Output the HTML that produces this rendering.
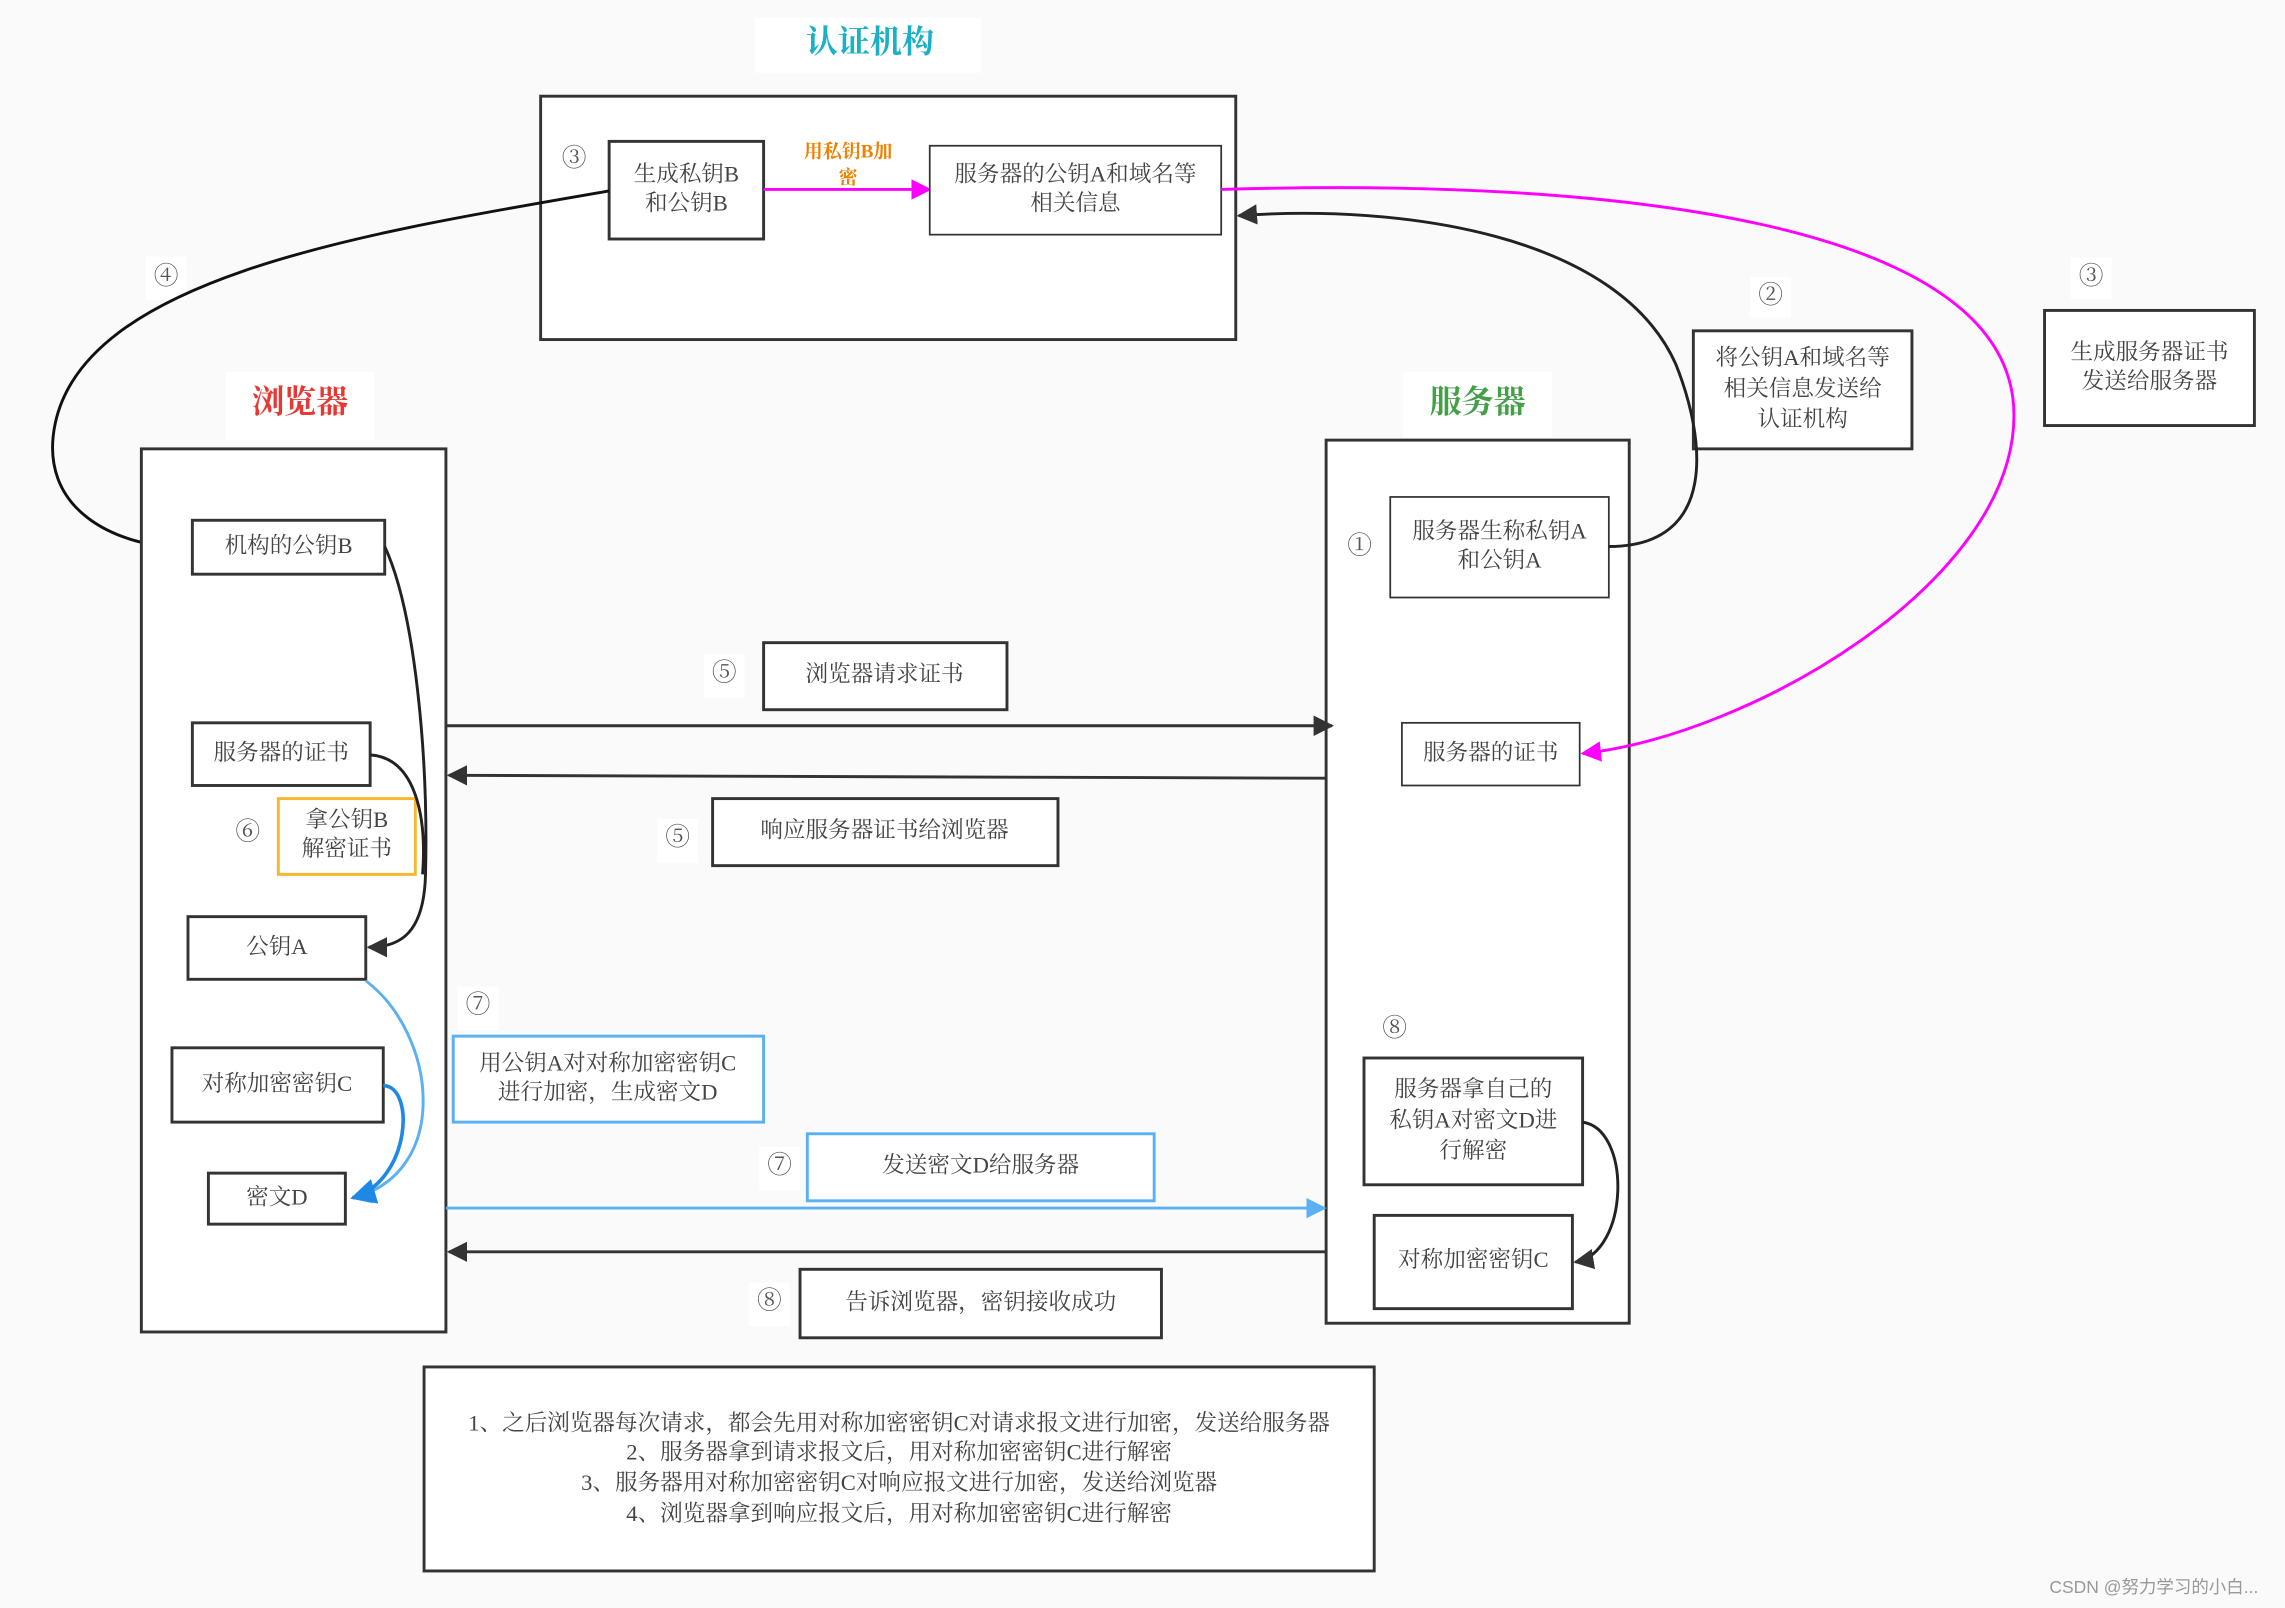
<!DOCTYPE html>
<html><head><meta charset="utf-8"><style>
html,body{margin:0;padding:0;background:#fafafa;}
svg{display:block;}
text{font-family:"Liberation Serif","Noto Serif CJK SC",serif;fill:#444;font-size:15.5px;text-anchor:middle;dominant-baseline:middle;}
.b{fill:#fff;stroke:#333;stroke-width:2;}
.n{font-size:17px;fill:#555;}
</style></head><body>
<svg width="2285" height="1608" viewBox="0 0 1568 1103.4" xmlns="http://www.w3.org/2000/svg">
<defs>
<marker id="ak" viewBox="0 0 10 10" refX="9" refY="5" markerWidth="7" markerHeight="7" orient="auto-start-reverse"><path d="M0,0L10,5L0,10z" fill="#333"/></marker>
<marker id="am" viewBox="0 0 10 10" refX="9" refY="5" markerWidth="7" markerHeight="7" orient="auto"><path d="M0,0L10,5L0,10z" fill="#f0f"/></marker>
<marker id="ab" viewBox="0 0 10 10" refX="9" refY="5" markerWidth="7" markerHeight="7" orient="auto"><path d="M0,0L10,5L0,10z" fill="#5ab0f0"/></marker>
<marker id="ad" viewBox="0 0 10 10" refX="9" refY="5" markerWidth="7" markerHeight="7" orient="auto"><path d="M0,0L10,5L0,10z" fill="#1e88e5"/></marker>
</defs>
<rect width="1568" height="1104" fill="#fafafa"/>
<!-- CA -->
<rect x="518" y="12" width="155" height="38" fill="#fff"/>
<text x="597" y="31" style="font-size:22px;font-weight:bold;fill:#1ab0c8">认证机构</text>
<rect x="371" y="66" width="477" height="167" class="b"/>
<text x="394" y="110" class="n">③</text>
<rect x="418" y="97" width="106" height="67" class="b"/>
<text x="471" y="121">生成私钥B</text><text x="471" y="141">和公钥B</text>
<text x="582" y="105" style="font-size:13px;font-weight:bold;fill:#f08000">用私钥B加</text>
<text x="582" y="123" style="font-size:13px;font-weight:bold;fill:#f08000">密</text>
<line x1="524" y1="130" x2="638" y2="130" stroke="#f0f" stroke-width="2" marker-end="url(#am)"/>
<rect x="638" y="100" width="200" height="61" class="b" style="stroke-width:1.2"/>
<text x="738" y="121">服务器的公钥A和域名等</text><text x="738" y="141">相关信息</text>
<!-- 4 -->
<rect x="100" y="176" width="28" height="30" fill="#fff"/>
<text x="114" y="191" class="n">④</text>
<path d="M418,131 C250,160 60,190 38,290 C25,350 80,376 130,376" fill="none" stroke="#111" stroke-width="2" marker-end="url(#ak)"/>
<!-- browser -->
<rect x="155" y="255" width="102" height="47" fill="#fff"/>
<text x="206" y="278" style="font-size:22px;font-weight:bold;fill:#e53935">浏览器</text>
<rect x="97" y="308" width="209" height="606" class="b"/>
<!-- server -->
<rect x="963" y="255" width="102" height="45" fill="#fff"/>
<text x="1014" y="278" style="font-size:22px;font-weight:bold;fill:#43a047">服务器</text>
<rect x="910" y="302" width="208" height="606" class="b"/>
<!-- 2 and 3 boxes -->
<rect x="1201" y="190" width="28" height="28" fill="#fff"/>
<text x="1215" y="204" class="n">②</text>
<rect x="1162" y="227" width="150" height="81" class="b"/>
<text x="1237" y="247">将公钥A和域名等</text><text x="1237" y="268">相关信息发送给</text><text x="1237" y="289">认证机构</text>
<rect x="1421" y="177" width="28" height="28" fill="#fff"/>
<text x="1435" y="191" class="n">③</text>
<rect x="1403" y="213" width="144" height="79" class="b"/>
<text x="1475" y="243">生成服务器证书</text><text x="1475" y="263">发送给服务器</text>
<!-- server items -->
<text x="933" y="376" class="n">①</text>
<rect x="954" y="341" width="150" height="69" class="b" style="stroke-width:1.2"/>
<text x="1029" y="366">服务器生称私钥A</text><text x="1029" y="386">和公钥A</text>
<path d="M1104,375 C1180,375 1170,300 1150,250 C1110,160 960,140 850,148" fill="none" stroke="#222" stroke-width="2" marker-end="url(#ak)"/>
<path d="M838,130 C1100,122 1382,150 1382,285 C1382,400 1200,505 1086,517" fill="none" stroke="#f0f" stroke-width="2" marker-end="url(#am)"/>
<rect x="962" y="496" width="122" height="43" class="b" style="stroke-width:1.2"/>
<text x="1023" y="518">服务器的证书</text>
<!-- browser items -->
<rect x="132" y="357" width="132" height="37" class="b"/>
<text x="198" y="376">机构的公钥B</text>
<rect x="132" y="496" width="122" height="43" class="b"/>
<text x="193" y="518">服务器的证书</text>
<text x="170" y="572" class="n">⑥</text>
<rect x="191" y="548" width="94" height="52" fill="#fff" stroke="#f5b82e" stroke-width="2"/>
<text x="238" y="564">拿公钥B</text><text x="238" y="584">解密证书</text>
<rect x="129" y="629" width="122" height="43" class="b"/>
<text x="190" y="651">公钥A</text>
<path d="M264,375 C285,420 294,520 292,600 C291,640 275,650 253,650" fill="none" stroke="#222" stroke-width="2" marker-end="url(#ak)"/>
<path d="M254,518 C285,520 293,560 290,600" fill="none" stroke="#222" stroke-width="2"/>
<rect x="118" y="719" width="145" height="51" class="b"/>
<text x="190" y="745">对称加密密钥C</text>
<rect x="143" y="805" width="94" height="35" class="b"/>
<text x="190" y="823">密文D</text>
<path d="M251,673 C300,710 310,805 242,822" fill="none" stroke="#5ab0f0" stroke-width="2" marker-end="url(#ab)"/>
<path d="M263,745 C285,745 282,810 242,822" fill="none" stroke="#1e88e5" stroke-width="2.5" marker-end="url(#ad)"/>
<!-- middle -->
<rect x="483" y="449" width="28" height="30" fill="#fff"/>
<text x="497" y="463" class="n">⑤</text>
<rect x="524" y="441" width="167" height="46" class="b"/>
<text x="607" y="464">浏览器请求证书</text>
<line x1="306" y1="498" x2="914" y2="498" stroke="#333" stroke-width="2" marker-end="url(#ak)"/>
<line x1="910" y1="534" x2="308" y2="532" stroke="#333" stroke-width="2" marker-end="url(#ak)"/>
<rect x="451" y="562" width="28" height="30" fill="#fff"/>
<text x="465" y="576" class="n">⑤</text>
<rect x="489" y="548" width="237" height="46" class="b"/>
<text x="607" y="571">响应服务器证书给浏览器</text>
<rect x="314" y="677" width="28" height="30" fill="#fff"/>
<text x="328" y="691" class="n">⑦</text>
<rect x="311" y="711" width="213" height="59" fill="#fff" stroke="#5ab0f0" stroke-width="2"/>
<text x="417" y="731">用公钥A对对称加密密钥C</text><text x="417" y="751">进行加密，生成密文D</text>
<rect x="521" y="787" width="28" height="30" fill="#fff"/>
<text x="535" y="801" class="n">⑦</text>
<rect x="554" y="778" width="238" height="46" fill="#fff" stroke="#5ab0f0" stroke-width="2"/>
<text x="673" y="801">发送密文D给服务器</text>
<line x1="306" y1="829" x2="909" y2="829" stroke="#5ab0f0" stroke-width="2" marker-end="url(#ab)"/>
<line x1="910" y1="859" x2="308" y2="859" stroke="#333" stroke-width="2" marker-end="url(#ak)"/>
<rect x="514" y="880" width="28" height="30" fill="#fff"/>
<text x="528" y="894" class="n">⑧</text>
<rect x="549" y="871" width="248" height="47" class="b"/>
<text x="673" y="895">告诉浏览器，密钥接收成功</text>
<!-- server bottom -->
<text x="957" y="707" class="n">⑧</text>
<rect x="936" y="726" width="150" height="87" class="b"/>
<text x="1011" y="749">服务器拿自己的</text><text x="1011" y="770">私钥A对密文D进</text><text x="1011" y="791">行解密</text>
<rect x="943" y="834" width="136" height="64" class="b"/>
<text x="1011" y="866">对称加密密钥C</text>
<path d="M1086,770 C1120,775 1118,860 1081,866" fill="none" stroke="#222" stroke-width="2" marker-end="url(#ak)"/>
<!-- bottom note -->
<rect x="291" y="938" width="652" height="140" class="b"/>
<text x="617" y="978">1、之后浏览器每次请求，都会先用对称加密密钥C对请求报文进行加密，发送给服务器</text>
<text x="617" y="998">2、服务器拿到请求报文后，用对称加密密钥C进行解密</text>
<text x="617" y="1019">3、服务器用对称加密密钥C对响应报文进行加密，发送给浏览器</text>
<text x="617" y="1040">4、浏览器拿到响应报文后，用对称加密密钥C进行解密</text>
<text x="1478" y="1090" style="font-size:12px;fill:#999;font-family:'Liberation Sans','Noto Sans CJK SC',sans-serif">CSDN @努力学习的小白...</text>
</svg>
</body></html>
